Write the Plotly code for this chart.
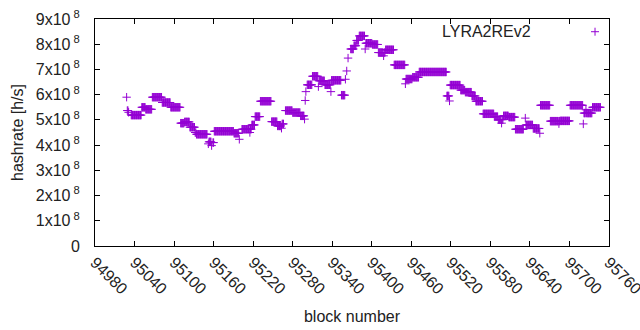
import plotly.graph_objects as go

# Runs of consecutive blocks sharing the same hashrate
run_start = [95028, 95029, 95031, 95035, 95051, 95057, 95067, 95082, 95095, 95110, 95116,
             95124, 95132, 95134, 95152, 95153, 95157, 95159, 95161, 95191, 95199, 95203,
             95215, 95216, 95218, 95223, 95231, 95248, 95257, 95263, 95264, 95269, 95280,
             95292, 95298, 95299, 95300, 95302, 95310, 95319, 95320, 95329, 95338, 95339,
             95354, 95360, 95362, 95364, 95368, 95373, 95377, 95381, 95390, 95391, 95401,
             95410, 95418, 95419, 95421, 95434, 95451, 95452, 95462, 95472, 95514, 95518,
             95519, 95535, 95542, 95548, 95552, 95558, 95569, 95586, 95592, 95597, 95598,
             95600, 95608, 95618, 95633, 95634, 95645, 95655, 95656, 95671, 95684, 95685,
             95686, 95701, 95721, 95722, 95725, 95726, 95735]
run_end = [95028, 95030, 95031, 95050, 95056, 95066, 95081, 95094, 95109, 95115, 95123,
           95131, 95133, 95150, 95152, 95156, 95157, 95160, 95190, 95198, 95199, 95214,
           95215, 95217, 95222, 95230, 95247, 95256, 95262, 95263, 95266, 95279, 95291,
           95297, 95298, 95299, 95300, 95309, 95318, 95319, 95328, 95337, 95338, 95353,
           95359, 95360, 95362, 95364, 95372, 95376, 95380, 95389, 95390, 95400, 95409,
           95417, 95418, 95420, 95433, 95450, 95451, 95461, 95471, 95513, 95517, 95518,
           95534, 95541, 95547, 95551, 95557, 95568, 95585, 95591, 95596, 95597, 95599,
           95607, 95617, 95630, 95633, 95644, 95654, 95655, 95670, 95683, 95684, 95685,
           95700, 95720, 95721, 95724, 95725, 95734, 95747]
run_value = [5.90, 5.37, 5.30, 5.19, 5.50, 5.42, 5.90, 5.69, 5.50, 4.87, 4.92,
             4.71, 4.50, 4.43, 4.05, 4.13, 3.98, 4.10, 4.55, 4.47, 4.23, 4.63,
             4.50, 4.63, 4.80, 5.13, 5.74, 4.93, 4.76, 4.67, 4.84, 5.37, 5.29,
             5.16, 5.03, 5.77, 6.12, 6.39, 6.73, 6.32, 6.55, 6.39, 6.12, 6.57,
             5.98, 6.61, 6.94, 7.45, 7.81, 7.94, 8.15, 8.33, 7.81, 8.04, 7.99,
             7.67, 7.54, 7.67, 7.78, 7.18, 6.43, 6.62, 6.69, 6.90, 5.95, 5.75,
             6.38, 6.18, 6.10, 6.10, 5.95, 5.74, 5.24, 5.13, 5.01, 4.87, 5.01,
             5.16, 5.11, 4.63, 5.07, 4.80, 4.66, 4.47, 5.58, 4.95, 4.85, 4.95,
             4.96, 5.58, 4.84, 5.27, 5.40, 5.27, 5.50]

x_ticks = [94980, 95040, 95100, 95160, 95220, 95280, 95340, 95400, 95460, 95520,
           95580, 95640, 95700, 95760]
y_ticks = [0, 1e8, 2e8, 3e8, 4e8, 5e8, 6e8, 7e8, 8e8, 9e8]
y_tick_text = ["0"] + [f"{i}x10<sup> 8</sup>" for i in range(1, 10)]

blocks, rates = [], []
for s, e, v in zip(run_start, run_end, run_value):
    for b in range(s, e + 1):
        blocks.append(b)
        rates.append(v * 1e8)

color = "#9400D3"
font = "Liberation Sans, Arial, sans-serif"
fsize = 16

fig = go.Figure()
fig.add_trace(go.Scatter(
    x=blocks, y=rates, mode="markers", name="LYRA2REv2", showlegend=False,
    marker=dict(symbol="cross-thin", size=6, color=color,
                line=dict(color=color, width=1)),
))

axis_common = dict(showline=True, linecolor="black", linewidth=1, mirror="allticks",
                   ticks="inside", ticklen=5, tickcolor="black", showgrid=False,
                   zeroline=False, automargin=False, ticklabeloverflow="allow",
                   tickfont=dict(family=font, size=fsize, color="#222"))

fig.update_xaxes(range=[94980, 95760], tickvals=x_ticks, ticktext=[str(t) for t in x_ticks],
                 tickangle=45, title=dict(text="block number", standoff=14,
                                          font=dict(family=font, size=fsize, color="#222")),
                 **axis_common)
fig.update_yaxes(range=[0, 9e8], tickvals=y_ticks, ticktext=y_tick_text,
                 ticklabelstandoff=11,
                 title=dict(text="hashrate [h/s]", standoff=8,
                            font=dict(family=font, size=fsize, color="#222")),
                 **axis_common)

# key: text then sample, as in the original
fig.add_annotation(xref="paper", yref="paper", x=0.8523, y=0.944, text="LYRA2REv2",
                   showarrow=False, xanchor="right", yanchor="middle",
                   font=dict(family=font, size=fsize, color="#222"))
px_x = 1 / 514.5
px_y = 1 / 226.7
cx, cy = 0.9728, 0.944
fig.add_shape(type="line", xref="paper", yref="paper", x0=cx - 4 * px_x, x1=cx + 4 * px_x,
              y0=cy, y1=cy, line=dict(color=color, width=1))
fig.add_shape(type="line", xref="paper", yref="paper", x0=cx, x1=cx,
              y0=cy - 4 * px_y, y1=cy + 4 * px_y, line=dict(color=color, width=1))

fig.update_layout(width=640, height=330, paper_bgcolor="white", plot_bgcolor="white",
                  margin=dict(l=95, r=31, t=19, b=84, autoexpand=False),
                  font=dict(family=font, size=fsize, color="#222"))

fig.write_html("out.html", config={"displayModeBar": False},
               post_script="document.body.style.margin='0';")
